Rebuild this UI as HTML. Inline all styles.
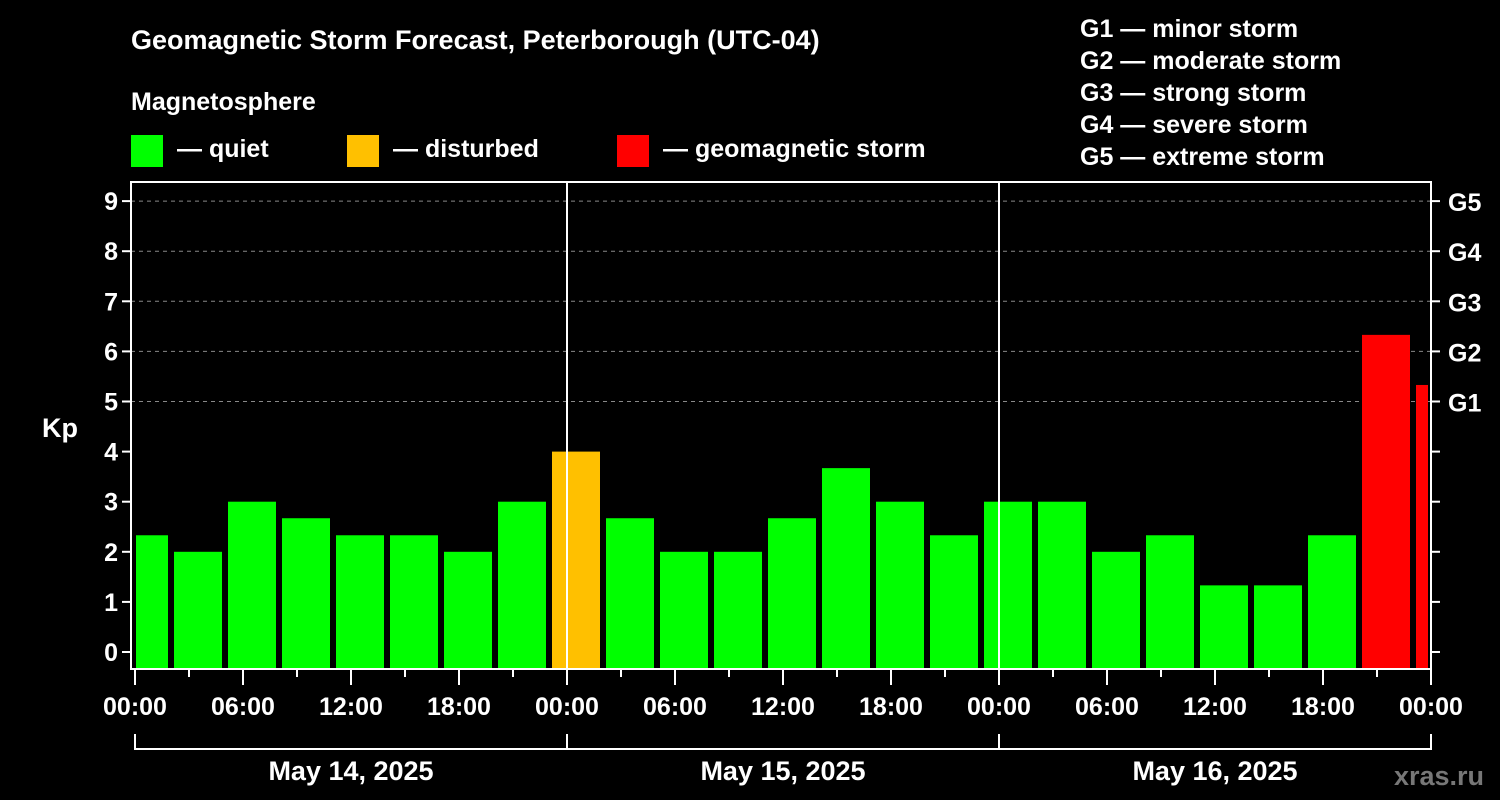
<!DOCTYPE html>
<html><head><meta charset="utf-8"><style>
html,body{margin:0;padding:0;background:#000;}
svg{display:block;font-family:"Liberation Sans",Arial,sans-serif;font-weight:bold;}
</style></head><body>
<svg id="chart" width="1500" height="800" viewBox="0 0 1500 800">
<rect x="0" y="0" width="1500" height="800" fill="#000"/>
<text x="131" y="49" fill="#fff" font-size="27">Geomagnetic Storm Forecast, Peterborough (UTC-04)</text>
<text x="131" y="110" fill="#fff" font-size="25">Magnetosphere</text>
<g><rect x="131" y="135" width="32" height="32" fill="#00ff00"/><text x="177" y="157" fill="#fff" font-size="25">— quiet</text></g>
<g><rect x="347" y="135" width="32" height="32" fill="#ffc000"/><text x="393" y="157" fill="#fff" font-size="25">— disturbed</text></g>
<g><rect x="617" y="135" width="32" height="32" fill="#ff0000"/><text x="663" y="157" fill="#fff" font-size="25">— geomagnetic storm</text></g>
<g font-size="25" fill="#fff">
<text x="1080" y="37">G1 — minor storm</text>
<text x="1080" y="69">G2 — moderate storm</text>
<text x="1080" y="101">G3 — strong storm</text>
<text x="1080" y="133">G4 — severe storm</text>
<text x="1080" y="165">G5 — extreme storm</text>
</g>
<text x="42" y="437" fill="#fff" font-size="27">Kp</text>
<text x="1484" y="785" fill="#777" font-size="27" text-anchor="end">xras.ru</text>
<g id="grid"></g>
<g id="bars"></g>
<g id="axes"></g>
</svg>
<script>
const kpValues = [2.33,2,3,2.67,2.33,2.33,2,3,4,2.67,2,2,2.67,3.67,3,2.33,3,3,2,2.33,1.33,1.33,2.33,6.33,5.33];
const binStartHours = [-1,2,5,8,11,14,17,20,23,26,29,32,35,38,41,44,47,50,53,56,59,62,65,68,71];
const yTicks = [0,1,2,3,4,5,6,7,8,9];
const gLabels = ["G1","G2","G3","G4","G5"];
const xTickLabels = ["00:00","06:00","12:00","18:00","00:00","06:00","12:00","18:00","00:00","06:00","12:00","18:00","00:00"];
const dayLabels = ["May 14, 2025","May 15, 2025","May 16, 2025"];

const NS="http://www.w3.org/2000/svg";
const X0=135, PX_H=18, L=131, R=1431, T=182, B=669;
const xS=h=>X0+h*PX_H;
const yS=v=>652-v*50.1;
function mk(tag,attrs,parent,txt){const e=document.createElementNS(NS,tag);for(const k in attrs)e.setAttribute(k,attrs[k]);if(txt!==undefined)e.textContent=txt;parent.appendChild(e);return e;}
const grid=document.getElementById('grid'),bars=document.getElementById('bars'),axes=document.getElementById('axes');

yTicks.forEach(v=>{
  if(v>=5){const g=mk('line',{x1:L,x2:R,y1:yS(v),y2:yS(v),stroke:'#888','stroke-width':1,'stroke-dasharray':'4,4'},grid);
  
  }
  const t=mk('line',{x1:L-9,x2:L,y1:yS(v),y2:yS(v),stroke:'#fff','stroke-width':2},axes);
  
  
  const lb=mk('text',{x:L-13,y:yS(v)+9,fill:'#fff','font-size':25,'text-anchor':'end'},axes,String(v));
  
  
  const rt=mk('line',{x1:R,x2:R+9,y1:yS(v),y2:yS(v),stroke:'#fff','stroke-width':2},axes);
  
  
});
gLabels.forEach((g,i)=>{
  const t=mk('text',{x:R+17,y:yS(5+i)+10,fill:'#fff','font-size':25},axes,g);
  
  
});

kpValues.forEach((v,i)=>{
  let s=xS(binStartHours[i])+3, e=xS(binStartHours[i]+3)-3;
  if(s<L+5)s=L+5; if(e>R-3)e=R-3;
  const col=v>=5?'#ff0000':(v>=4?'#ffc000':'#00ff00');
  const r=mk('rect',{x:s,y:yS(v),width:e-s,height:B-yS(v),fill:col},bars);
  
  
});

[1,2].forEach(d=>{
  const l=mk('line',{x1:xS(24*d),x2:xS(24*d),y1:T,y2:B,stroke:'#fff','stroke-width':2},axes);
  
  
});
const frame=mk('rect',{x:L,y:T,width:R-L,height:B-T,fill:'none',stroke:'#fff','stroke-width':2},axes);



for(let h=0;h<=72;h+=3){
  const major=h%6===0;
  const t=mk('line',{x1:xS(h),x2:xS(h),y1:B,y2:B+(major?16:8),stroke:'#fff','stroke-width':2},axes);
  
  
}
xTickLabels.forEach((s,i)=>{
  const t=mk('text',{x:xS(i*6),y:715,fill:'#fff','font-size':25,'text-anchor':'middle'},axes,s);
  
  
});
const br=mk('path',{d:`M${xS(0)} 734V749H${xS(72)}V734M${xS(24)} 734V749M${xS(48)} 734V749`,fill:'none',stroke:'#fff','stroke-width':2},axes);


dayLabels.forEach((s,i)=>{
  const t=mk('text',{x:xS(i*24+12),y:780,fill:'#fff','font-size':27,'text-anchor':'middle'},axes,s);
  
  
});
</script>
</body></html>
